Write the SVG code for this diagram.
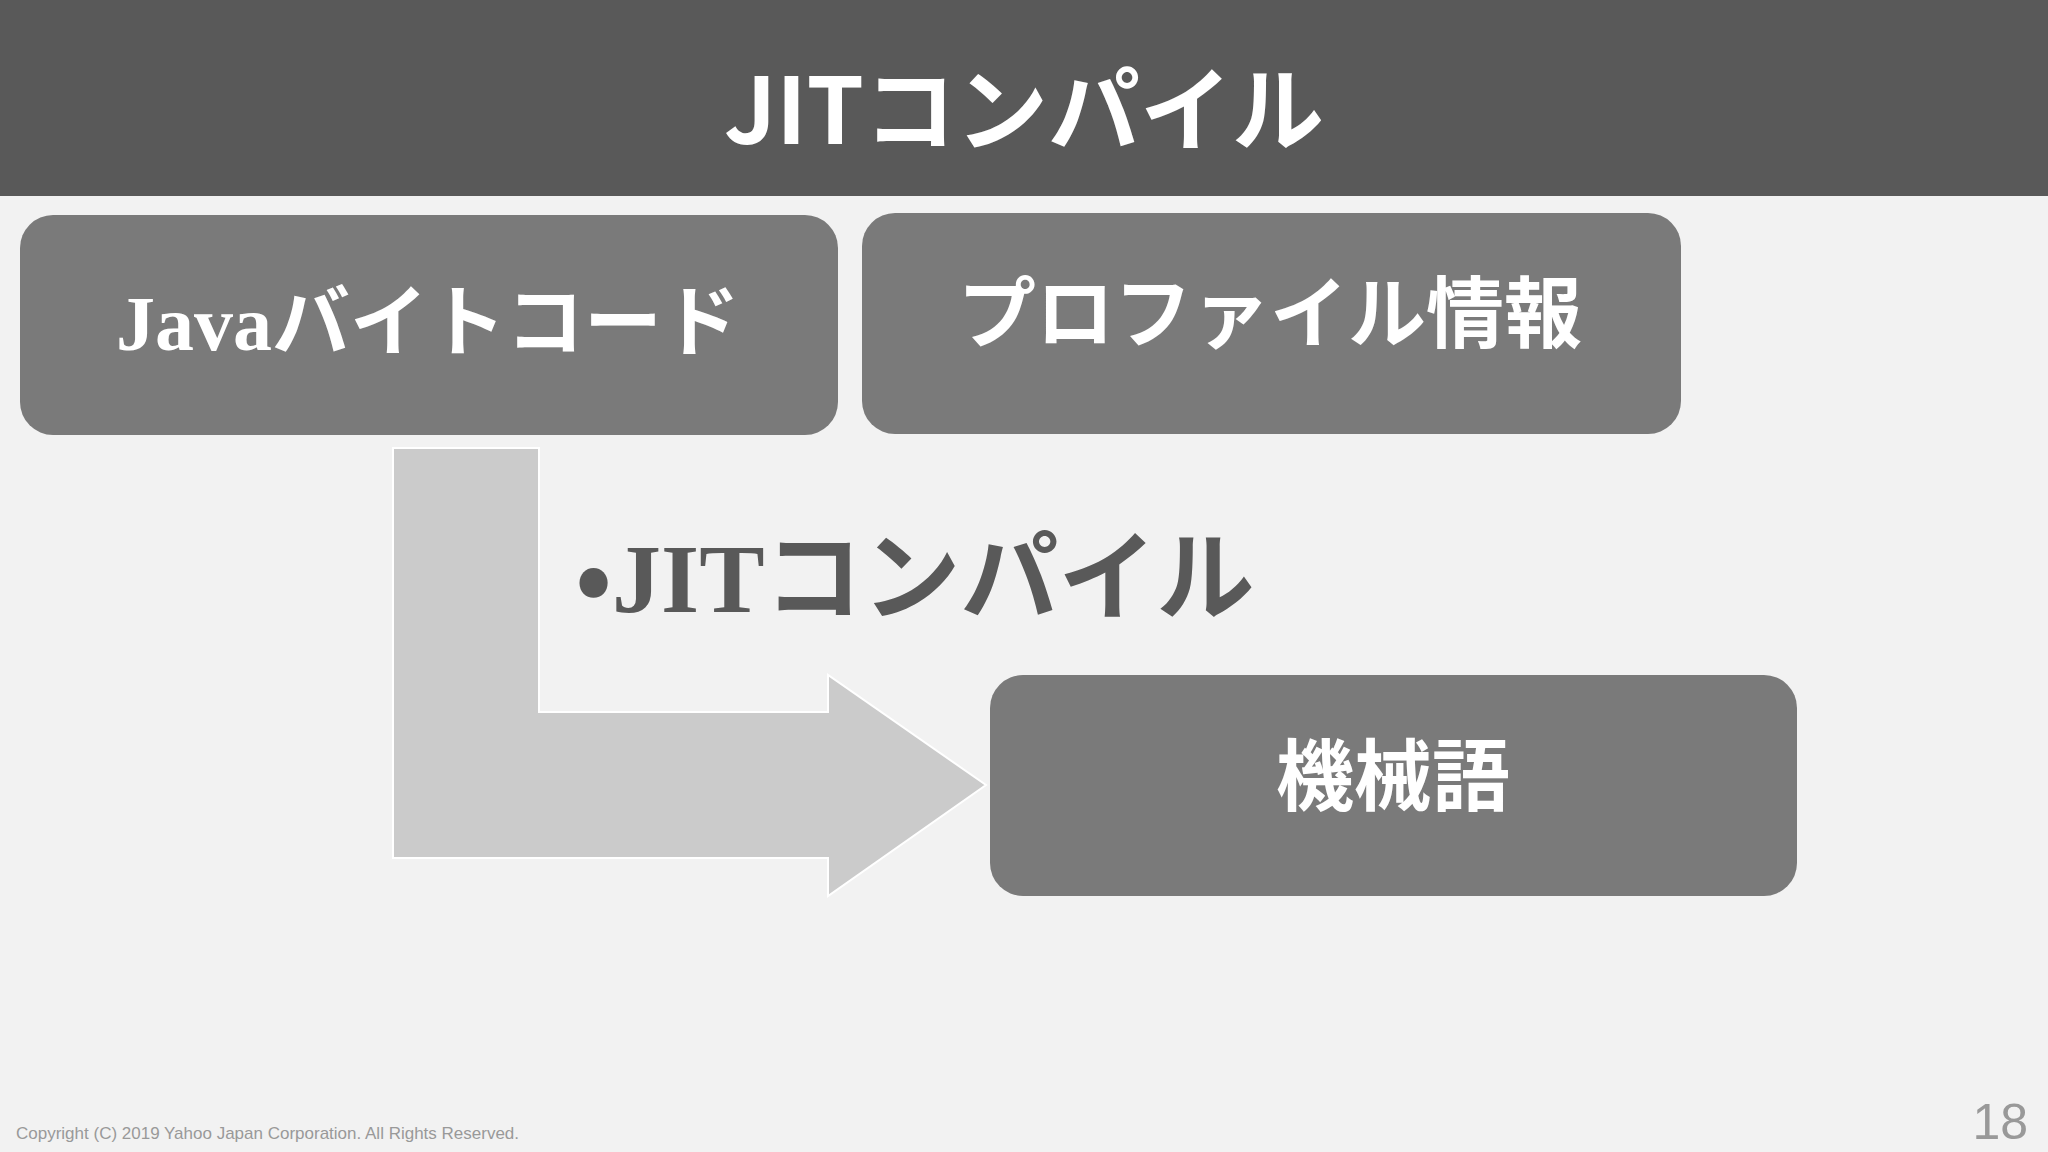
<svg xmlns="http://www.w3.org/2000/svg" width="2048" height="1152" viewBox="0 0 2048 1152">
<style>
.box{fill:#7a7a7a}
.bt{fill:#fff;font-family:"Noto Sans CJK JP",sans-serif;font-weight:bold;font-size:78px;text-anchor:middle}
.serif{font-family:"Liberation Serif",serif}
</style>
<rect width="2048" height="1152" fill="#f2f2f2"/>
<rect width="2048" height="196" fill="#595959"/>
<text x="1024" y="144" fill="#fff" font-family="Noto Sans CJK JP,sans-serif" font-weight="bold" font-size="92" text-anchor="middle">JITコンパイル</text>
<g id="connectors">
<polygon points="393,448 539,448 539,712 828,712 828,675 986,785 828,896 828,858 393,858" fill="#cbcbcb" stroke="#fff" stroke-width="2"/>
</g>
<g id="n1"><rect class="box" x="20" y="215" width="818" height="220" rx="33"/><text class="bt" x="428" y="350"><tspan class="serif">Java</tspan>バイトコード</text></g>
<g id="n2"><rect class="box" x="862" y="213" width="819" height="221" rx="33"/><text class="bt" x="1270" y="342">プロファイル情報</text></g>
<g id="n3"><rect class="box" x="990" y="675" width="807" height="221" rx="33"/><text class="bt" x="1393" y="805">機械語</text></g>
<text x="575" y="612" fill="#595959" font-family="Noto Sans CJK JP,sans-serif" font-weight="bold" font-size="98">•<tspan class="serif">JIT</tspan>コンパイル</text>
<text x="16" y="1139" fill="#999" font-family="Liberation Sans,sans-serif" font-size="17">Copyright (C) 2019 Yahoo Japan Corporation. All Rights Reserved.</text>
<text x="2028" y="1139" fill="#999" font-family="Liberation Sans,sans-serif" font-size="50" text-anchor="end">18</text>
</svg>
